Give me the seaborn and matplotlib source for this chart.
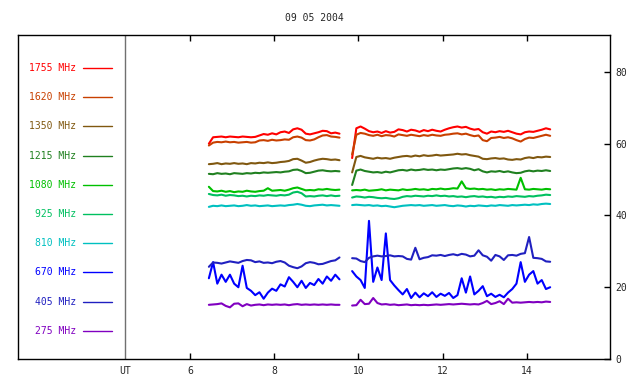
import numpy as np
import pandas as pd
import seaborn as sns
import matplotlib.pyplot as plt

# sampling grid of the two recorded stretches (UT hours)
t_seg1 = np.round(np.arange(6.45, 9.56, 0.1), 2)
t_seg2 = np.round(np.arange(9.85, 14.56, 0.1), 2)

freqs = ["1755 MHz", "1620 MHz", "1350 MHz", "1215 MHz", "1080 MHz",
         "925 MHz", "810 MHz", "670 MHz", "405 MHz", "275 MHz"]
colors = ["#ff0000", "#c84000", "#805810", "#208020", "#00c000",
          "#00c060", "#00c0c0", "#0000ff", "#2020c0", "#8000c0"]

f1755_a = [60.0, 61.8, 61.9, 62.0, 61.8, 62.0, 61.9, 61.8, 62.0, 61.9, 61.8, 61.9, 62.3, 62.7, 62.5, 62.9,
           62.6, 63.2, 63.4, 63.0, 64.0, 64.3, 63.9, 62.8, 62.6, 62.9, 63.2, 63.6, 63.5, 62.9, 63.1, 62.8]
f1755_b = [56.0, 64.3, 64.8, 64.2, 63.5, 63.2, 63.4, 63.0, 63.5, 63.1, 63.3, 64.0, 63.8, 63.4, 63.9, 63.7,
           63.3, 63.8, 63.5, 63.9, 63.6, 63.4, 63.9, 64.3, 64.6, 64.8, 64.5, 64.7, 64.2, 63.9, 64.1, 63.2,
           62.8, 63.4, 63.2, 63.5, 63.3, 63.6, 63.2, 62.8, 62.6, 63.2, 63.4, 63.3, 63.6, 63.9, 64.3, 64.0]

f1620_a = [59.5, 60.3, 60.5, 60.4, 60.6, 60.4, 60.5, 60.3, 60.4, 60.5, 60.3, 60.4, 60.9, 61.0, 60.8, 61.1,
           60.9, 61.0, 61.2, 61.1, 61.8, 62.0, 61.7, 61.0, 60.9, 61.2, 61.8, 62.3, 62.4, 62.0, 61.9, 61.7]
f1620_b = [57.0, 62.5, 63.0, 62.8, 62.4, 62.2, 62.5, 62.1, 62.4, 62.3, 62.0, 62.6, 62.4, 62.2, 62.5, 62.3,
           62.1, 62.4, 62.2, 62.5, 62.3, 62.2, 62.5, 62.6, 62.8, 62.9, 62.6, 62.8, 62.4, 62.1, 62.3, 61.0,
           60.7, 61.6, 61.7, 61.9, 61.6, 61.8, 61.5, 61.0, 60.6, 61.3, 61.7, 61.6, 61.9, 62.2, 62.5, 62.2]

f1350_a = [54.3, 54.4, 54.6, 54.3, 54.5, 54.4, 54.6, 54.4, 54.5, 54.3, 54.6, 54.5, 54.7, 54.6, 54.8, 54.6,
           54.7, 54.9, 55.0, 55.2, 55.7, 55.8, 55.3, 54.7, 54.9, 55.3, 55.6, 55.8, 55.7, 55.5, 55.6, 55.4]
f1350_b = [52.0, 56.3, 56.6, 56.2, 56.0, 55.8, 56.1, 55.9, 56.0, 55.8, 56.1, 56.3, 56.5, 56.6, 56.4, 56.7,
           56.5, 56.8, 56.6, 56.7, 56.9, 56.7, 56.8, 56.9, 57.0, 57.2, 57.0, 57.1, 56.8, 56.6, 56.4, 55.8,
           55.7, 55.9, 56.0, 55.8, 55.9, 55.6, 55.5, 55.7, 55.6, 56.0, 56.2, 56.0, 56.3, 56.2, 56.4, 56.3]

f1215_a = [51.6, 51.5, 51.8, 51.6, 51.7, 51.5, 51.8, 51.7, 51.6, 51.8, 51.7, 51.9, 51.8, 52.0, 51.9, 52.0,
           52.1, 52.0, 52.2, 52.3, 52.7, 52.8, 52.4, 51.8, 51.9, 52.2, 52.5, 52.6, 52.4, 52.3, 52.4, 52.3]
f1215_b = [48.5, 52.5, 52.8, 52.4, 52.2, 52.0, 52.1, 51.9, 52.2, 52.0, 52.3, 52.6, 52.7, 52.5, 52.8, 52.6,
           52.7, 52.9, 52.7, 52.8, 52.6, 52.8, 52.7, 52.9, 53.1, 53.2, 53.0, 53.2, 53.0, 52.6, 52.9, 52.3,
           52.0, 52.3, 52.2, 52.4, 52.1, 52.3, 52.0, 51.8, 51.9, 52.3, 52.5, 52.3, 52.5, 52.4, 52.6, 52.4]

f1080_a = [48.0, 46.8, 46.7, 46.9, 46.6, 46.8, 46.5, 46.7, 46.6, 46.9, 46.7, 46.6, 46.8, 46.9, 47.6, 46.9,
           47.0, 47.1, 46.9, 47.2, 47.6, 47.8, 47.4, 47.0, 47.1, 47.0, 47.3, 47.2, 47.4, 47.2, 47.1, 47.2]
f1080_b = [47.0, 47.1, 47.0, 47.2, 46.9, 47.0, 47.1, 47.3, 47.0, 47.2, 47.1, 47.0, 47.3, 47.1, 47.2, 47.4,
           47.2, 47.3, 47.1, 47.4, 47.3, 47.5, 47.3, 47.4, 47.6, 47.5, 49.5, 47.6, 47.4, 47.5, 47.3, 47.4,
           47.2, 47.3, 47.1, 47.3, 47.2, 47.4, 47.3, 47.2, 50.5, 47.3, 47.2, 47.4, 47.3, 47.2, 47.4, 47.3]

f925_a = [46.0, 45.7, 45.6, 45.8, 45.5, 45.7, 45.6, 45.4, 45.5, 45.3, 45.5, 45.4, 45.6, 45.5, 45.7, 45.6,
          45.5, 45.7, 45.6, 45.8, 46.4, 46.6, 46.2, 45.3, 45.4, 45.3, 45.5, 45.6, 45.4, 45.6, 45.4, 45.5]
f925_b = [45.0, 45.3, 45.2, 45.0, 45.2, 45.1, 44.9, 44.8, 44.9, 44.7, 44.6, 44.8, 45.2, 45.4, 45.3, 45.5,
          45.4, 45.3, 45.5, 45.4, 45.6, 45.4, 45.5, 45.3, 45.4, 45.2, 45.3, 45.1, 45.3, 45.4, 45.2, 45.3,
          45.1, 45.2, 45.0, 45.2, 45.1, 45.3, 45.2, 45.4, 45.3, 45.2, 45.4, 45.3, 45.5, 45.6, 45.8, 45.7]

f810_a = [42.4, 42.7, 42.6, 42.8, 42.6, 42.7, 42.8, 42.6, 42.7, 42.9, 42.7, 42.8, 42.6, 42.7, 42.8, 42.6,
          42.7, 42.8, 42.7, 42.9, 43.0, 43.2, 43.0, 42.7, 42.6, 42.8, 42.9, 43.0, 42.8, 42.9, 42.8, 42.7]
f810_b = [42.9, 43.0, 42.9, 42.8, 42.9, 42.7, 42.8, 42.6, 42.7, 42.5, 42.3, 42.5, 42.7, 42.8, 42.9, 42.8,
          42.9, 42.7, 42.8, 42.9, 42.7, 42.8, 42.9, 42.7, 42.6, 42.8, 42.7, 42.5, 42.7, 42.6, 42.8, 42.7,
          42.6, 42.8, 42.7, 42.9, 42.8, 42.7, 42.9, 42.8, 42.9, 43.0, 42.9, 43.1, 43.0, 43.2, 43.3, 43.2]

f670_a = [22.5, 27.0, 21.0, 23.5, 21.5, 23.5, 21.0, 20.0, 26.0, 19.8, 19.0, 17.8, 18.6, 16.8, 18.5, 19.6,
          19.0, 20.8, 20.2, 22.8, 21.5, 20.0, 21.8, 19.8, 21.2, 20.6, 22.3, 21.0, 23.0, 21.8, 23.5, 22.2]
f670_b = [24.5, 23.0, 22.0, 19.8, 38.5, 21.5, 25.5, 22.0, 35.0, 22.0, 20.5, 19.2, 18.0, 19.5, 17.0, 18.5,
          17.2, 18.3, 17.5, 18.6, 17.3, 18.2, 17.6, 18.4, 17.0, 17.8, 22.5, 18.5, 23.0, 18.0, 19.0, 20.3,
          17.5, 18.2, 17.3, 17.9, 17.2, 18.5, 19.5, 21.0, 27.0, 21.5, 23.5, 24.5, 21.0, 22.0, 19.5, 20.0]

f405_a = [25.7, 26.9, 26.8, 26.6, 26.9, 27.2, 27.0, 26.8, 27.3, 27.6, 27.5, 27.0, 27.2, 26.8, 26.9, 26.7,
          27.1, 27.3, 26.9, 26.0, 25.6, 25.3, 25.8, 26.7, 27.0, 26.8, 26.4, 26.5, 26.9, 27.3, 27.5, 28.3]
f405_b = [28.1, 28.0, 27.3, 27.0, 28.2, 28.6, 28.8, 28.6, 28.7, 28.9, 28.6, 28.7, 28.6, 27.9, 27.7, 31.0,
          27.8, 28.2, 28.4, 28.9, 28.8, 29.0, 28.7, 29.0, 29.2, 28.9, 29.3, 29.1, 28.6, 28.8, 30.3, 28.9,
          28.5, 27.4, 29.0, 28.6, 27.6, 28.9, 29.0, 28.8, 29.3, 29.5, 34.0, 28.2, 28.1, 27.9, 27.2, 27.1]

f275_a = [15.1, 15.2, 15.3, 15.5, 14.8, 14.4, 15.4, 15.5, 14.7, 15.3, 14.9, 15.1, 15.2, 15.0, 15.2, 15.1,
          15.2, 15.1, 15.2, 15.0, 15.2, 15.3, 15.1, 15.2, 15.1, 15.2, 15.1, 15.2, 15.1, 15.2, 15.1, 15.1]
f275_b = [14.9, 15.0, 16.5, 15.3, 15.4, 17.0, 15.6, 15.2, 15.3, 15.1, 15.2, 15.0, 15.1, 15.2, 15.0, 15.1,
          15.0, 15.1, 15.0, 15.1, 15.2, 15.1, 15.2, 15.3, 15.2, 15.3, 15.4, 15.3, 15.2, 15.3, 15.2, 15.6,
          16.2, 15.3, 15.6, 16.1, 15.3, 16.8, 15.7, 15.8, 15.7, 15.8, 15.9, 15.8, 15.9, 15.8, 16.0, 15.9]

series = {
    "1755 MHz": (f1755_a, f1755_b), "1620 MHz": (f1620_a, f1620_b),
    "1350 MHz": (f1350_a, f1350_b), "1215 MHz": (f1215_a, f1215_b),
    "1080 MHz": (f1080_a, f1080_b), "925 MHz": (f925_a, f925_b),
    "810 MHz": (f810_a, f810_b), "670 MHz": (f670_a, f670_b),
    "405 MHz": (f405_a, f405_b), "275 MHz": (f275_a, f275_b),
}

# long table, one row per sample
rows = []
for name, (seg_a, seg_b) in series.items():
    for tt, v in zip(t_seg1, seg_a):
        rows.append((name, 1, tt, v))
    for tt, v in zip(t_seg2, seg_b):
        rows.append((name, 2, tt, v))
df = pd.DataFrame(rows, columns=["freq", "seg", "ut", "flux"])

sns.set_theme(style="white")
plt.rcParams["font.family"] = ["DejaVu Sans Mono"]
plt.rcParams["font.size"] = 7

fig = plt.figure(figsize=(6.4, 3.84), dpi=100)
ax = fig.add_axes([18 / 640, 1 - 359 / 384, 592 / 640, 324 / 384])

sns.lineplot(data=df, x="ut", y="flux", hue="freq", hue_order=freqs,
             palette=dict(zip(freqs, colors)), units="seg", estimator=None,
             linewidth=1.5, legend=False, ax=ax)

ut_x = 4.457
ax.axvline(ut_x, color="#707070", linewidth=1)

ax.set_xlim(1.92, 15.97)
ax.set_ylim(0, 90.3)
ax.set_xlabel("")
ax.set_ylabel("")
ax.set_title("09 05 2004", fontsize=7, pad=10)

for s in ax.spines.values():
    s.set_color("black")
    s.set_linewidth(1)

ax.set_xticks([ut_x, 6, 8, 10, 12, 14])
ax.set_xticklabels(["UT", "6", "8", "10", "12", "14"])
ax.tick_params(axis="x", direction="in", top=True, bottom=True, length=4,
               width=1, color="black", labelsize=7, pad=5)
first = ax.xaxis.get_major_ticks()[0]
first.tick1line.set_visible(False)
first.tick2line.set_visible(False)

ax.yaxis.tick_right()
ax.set_yticks([0, 20, 40, 60, 80])
ax.tick_params(axis="y", direction="in", right=True, left=False, length=4,
               width=1, color="black", labelsize=7, pad=4)

# frequency key on the left
for i, (name, col) in enumerate(zip(freqs, colors)):
    yf = (359 - (68 + 29.2 * i)) / 324
    ax.text(0.098, yf, name, color=col, ha="right", va="center",
            fontsize=7, transform=ax.transAxes)
    ax.plot([0.1098, 0.1588], [yf, yf], color=col, linewidth=1,
            transform=ax.transAxes)

fig.savefig("out.png", dpi=100)
